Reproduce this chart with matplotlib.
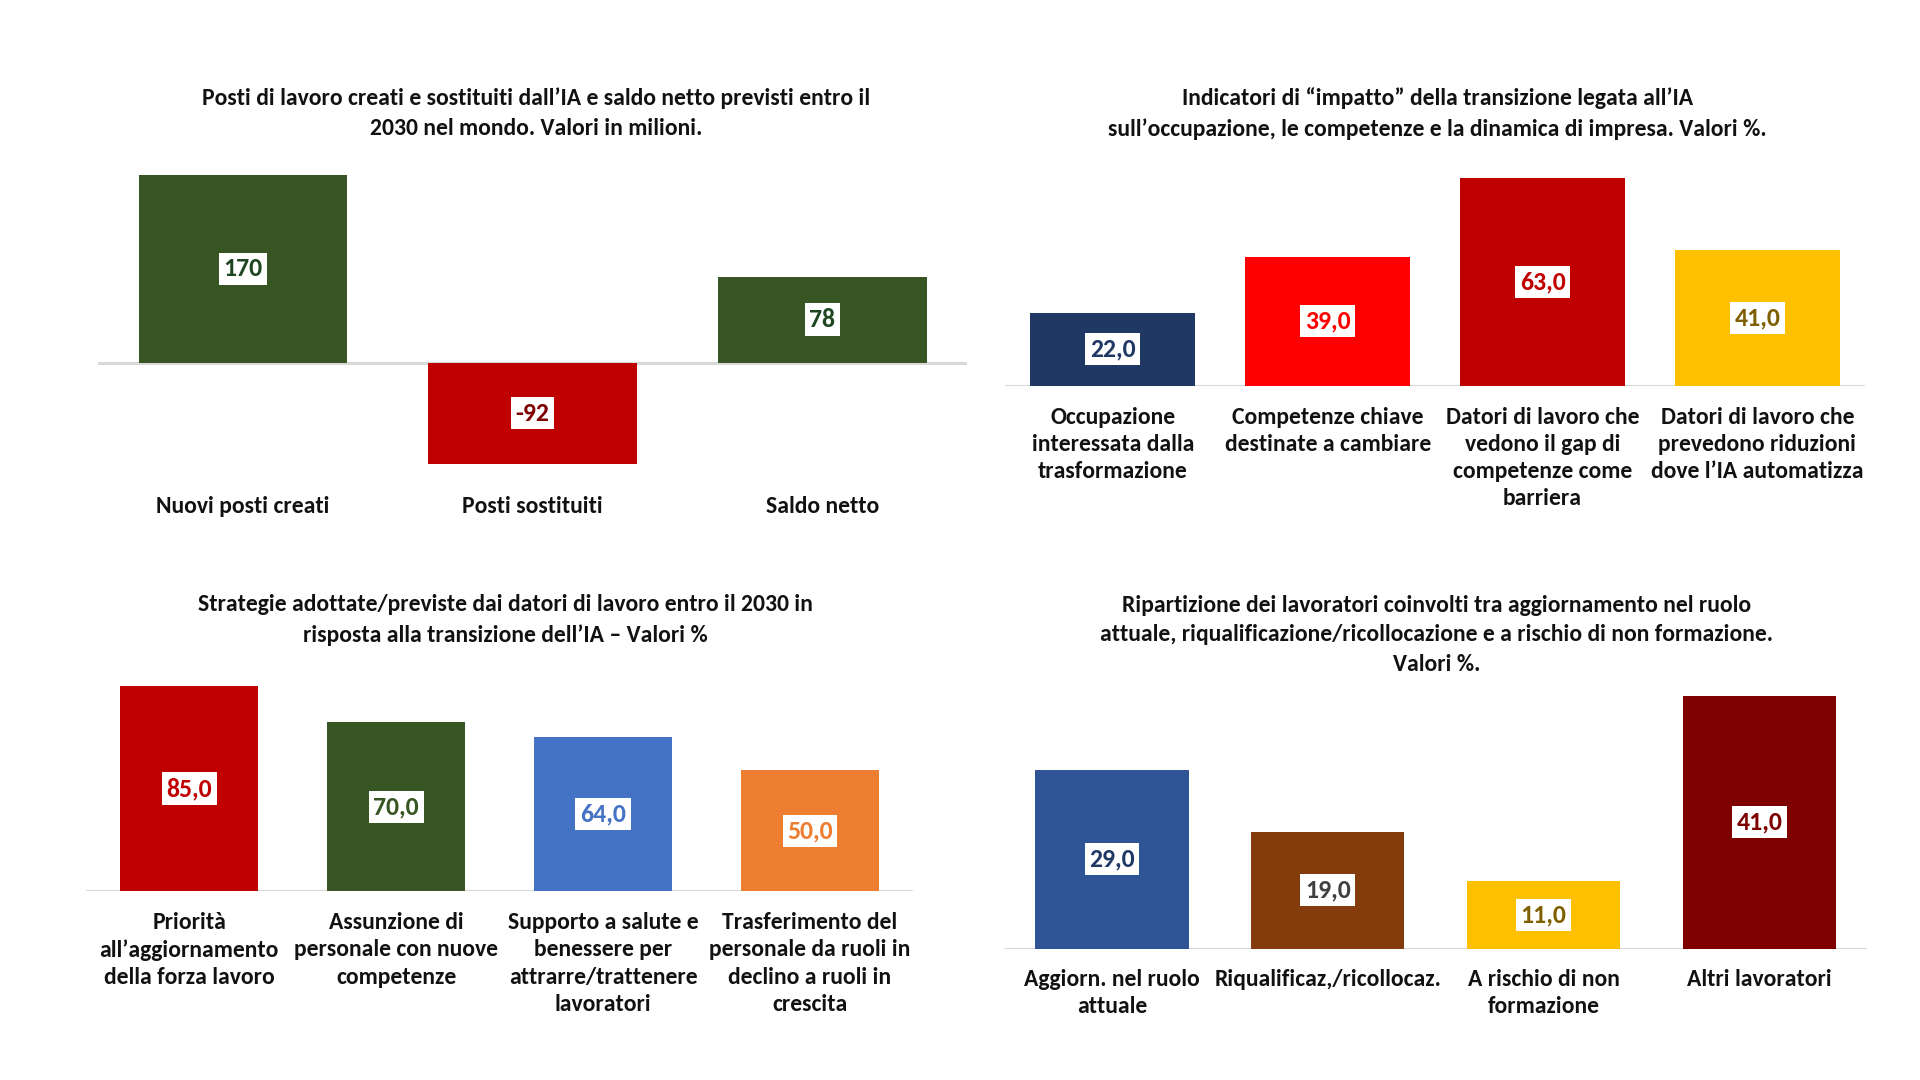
import matplotlib
matplotlib.use("Agg")
import matplotlib.pyplot as plt
from matplotlib import font_manager

# Calibri-like font if available
installed = {f.name for f in font_manager.fontManager.ttflist}
main_font = next((f for f in ["Carlito", "Liberation Sans Narrow", "Lato"] if f in installed), "DejaVu Sans")
plt.rcParams['font.family'] = [main_font, 'DejaVu Sans']
plt.rcParams['font.weight'] = 'bold'

# Panel 1 - jobs created / replaced / net (millions)
p1_cats = ["Nuovi posti creati", "Posti sostituiti", "Saldo netto"]
p1_vals = [170, -92, 78]
p1_colors = ["#375623", "#C00000", "#375623"]
p1_text = ["#1E4620", "#7F0000", "#1E4620"]
p1_title = "Posti di lavoro creati e sostituiti dall\u2019IA e saldo netto previsti entro il\n2030 nel mondo. Valori in milioni."

# Panel 2 - impact indicators (%)
p2_cats = ["Occupazione\ninteressata dalla\ntrasformazione",
           "Competenze chiave\ndestinate a cambiare",
           "Datori di lavoro che\nvedono il gap di\ncompetenze come\nbarriera",
           "Datori di lavoro che\nprevedono riduzioni\ndove l\u2019IA automatizza"]
p2_vals = [22.0, 39.0, 63.0, 41.0]
p2_colors = ["#1F3864", "#FF0000", "#C00000", "#FFC000"]
p2_text = ["#1F3864", "#FF0000", "#C00000", "#7F6000"]
p2_title = "Indicatori di \u201cimpatto\u201d della transizione legata all\u2019IA\nsull\u2019occupazione, le competenze e la dinamica di impresa. Valori %."

# Panel 3 - employer strategies (%)
p3_cats = ["Priorit\u00e0\nall\u2019aggiornamento\ndella forza lavoro",
           "Assunzione di\npersonale con nuove\ncompetenze",
           "Supporto a salute e\nbenessere per\nattrarre/trattenere\nlavoratori",
           "Trasferimento del\npersonale da ruoli in\ndeclino a ruoli in\ncrescita"]
p3_vals = [85.0, 70.0, 64.0, 50.0]
p3_colors = ["#C00000", "#375623", "#4472C4", "#ED7D31"]
p3_text = ["#C00000", "#375623", "#4472C4", "#ED7D31"]
p3_title = "Strategie adottate/previste dai datori di lavoro entro il 2030 in\nrisposta alla transizione dell\u2019IA \u2013 Valori %"

# Panel 4 - workers breakdown (%)
p4_cats = ["Aggiorn. nel ruolo\nattuale", "Riqualificaz,/ricollocaz.",
           "A rischio di non\nformazione", "Altri lavoratori"]
p4_vals = [29.0, 19.0, 11.0, 41.0]
p4_colors = ["#2F5597", "#843C0C", "#FFC000", "#7F0000"]
p4_text = ["#1F3864", "#404040", "#7F6000", "#7F0000"]
p4_title = "Ripartizione dei lavoratori coinvolti tra aggiornamento nel ruolo\nattuale, riqualificazione/ricollocazione e a rischio di non formazione.\nValori %."

W, H = 1568, 882  # layout reference grid

fig = plt.figure(figsize=(19.2, 10.8), dpi=100)
fig.patch.set_facecolor("white")


def panel(rect, cats, vals, colors, tcolors, width, fmt, pad):
    x0, x1, ytop, ybot = rect
    ax = fig.add_axes([x0 / W, 1 - ybot / H, (x1 - x0) / W, (ybot - ytop) / H])
    n = len(vals)
    xs = list(range(n))
    ax.bar(xs, vals, width=width, color=colors, zorder=2)
    ax.set_xlim(-0.5, n - 0.5)
    ax.set_ylim(min(0, min(vals)), max(vals))
    ax.axhline(0, color="#D9D9D9", lw=2.2, zorder=1)
    for s in ax.spines.values():
        s.set_visible(False)
    ax.set_yticks([])
    ax.set_xticks(xs)
    ax.set_xticklabels(cats, fontsize=17, fontweight="bold", color="#111111",
                       linespacing=1.36)
    ax.tick_params(axis="x", length=0, pad=pad)
    for x, v, tc in zip(xs, vals, tcolors):
        ax.text(x, v / 2, fmt(v), ha="center", va="center", fontsize=18.5,
                fontweight="bold", color=tc, zorder=3,
                bbox=dict(boxstyle="square,pad=0.18", fc="white", ec="none"))
    return ax


def fmt_int(v):
    return f"{v:d}"


def fmt_dec(v):
    return f"{v:.1f}".replace(".", ",")


panel((80, 790, 143, 379), p1_cats, p1_vals, p1_colors, p1_text, 0.72, fmt_int, 23)
panel((821, 1523, 145, 315), p2_cats, p2_vals, p2_colors, p2_text, 0.77, fmt_dec, 15)
panel((70, 746, 560, 728), p3_cats, p3_vals, p3_colors, p3_text, 0.665, fmt_dec, 15)
panel((820, 1525, 568, 775), p4_cats, p4_vals, p4_colors, p4_text, 0.71, fmt_dec, 14.5)

title_kw = dict(ha="center", va="center", fontsize=17, fontweight="bold",
                color="#111111", linespacing=1.5)
fig.text(438 / W, 1 - 92.5 / H, p1_title, **title_kw)
fig.text(1174 / W, 1 - 92.5 / H, p2_title, **title_kw)
fig.text(413 / W, 1 - 506.5 / H, p3_title, **title_kw)
fig.text(1173 / W, 1 - 518.5 / H, p4_title, **title_kw)

fig.savefig("out.png", dpi=100, facecolor="white")
